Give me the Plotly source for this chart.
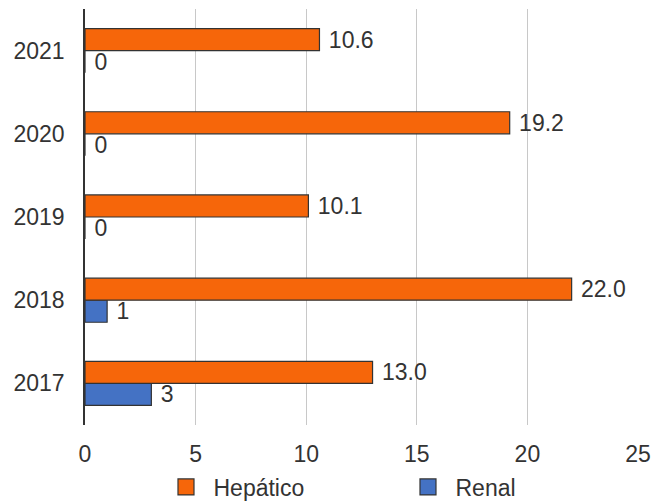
import plotly.graph_objects as go

# Data
years = ["2017", "2018", "2019", "2020", "2021"]
hepatico = [13.0, 22.0, 10.1, 19.2, 10.6]
renal = [3, 1, 0, 0, 0]

ORANGE = "#F6660A"
BLUE = "#4472C4"
EDGE = "#333333"
TEXT = "#333333"
FONT = "Liberation Sans, Arial, sans-serif"
FS = 23
NBSP = "\u00a0"

fig = go.Figure()

# Renal drawn first so it sits below Hepático inside each year group
fig.add_trace(go.Bar(
    y=years, x=renal, orientation="h", name="Renal",
    marker=dict(color=BLUE, line=dict(color=EDGE, width=1.2)),
    text=renal, texttemplate=NBSP + "%{x:.0f}", textposition="outside",
    textfont=dict(size=FS, color=TEXT, family=FONT),
    constraintext="none", cliponaxis=False, showlegend=False,
))
fig.add_trace(go.Bar(
    y=years, x=hepatico, orientation="h", name="Hepático",
    marker=dict(color=ORANGE, line=dict(color=EDGE, width=1.2)),
    text=hepatico, texttemplate=NBSP + "%{x:.1f}", textposition="outside",
    textfont=dict(size=FS, color=TEXT, family=FONT),
    constraintext="none", cliponaxis=False, showlegend=False,
))

# Legend entries with larger square swatches
for name, color in [("Hepático", ORANGE), ("Renal", BLUE)]:
    fig.add_trace(go.Scatter(
        x=[None], y=[None], mode="markers", name=name,
        marker=dict(symbol="square", size=18, color=color,
                    line=dict(color=EDGE, width=1.2)),
    ))

fig.update_layout(
    width=665, height=502,
    margin=dict(l=85, r=27, t=9, b=77, autoexpand=False),
    paper_bgcolor="white", plot_bgcolor="white",
    barmode="group", bargap=0.47, bargroupgap=0,
    font=dict(family=FONT, size=FS, color=TEXT),
    showlegend=True,
    legend=dict(
        orientation="h", x=0.1329, xanchor="left",
        yref="container", y=0.03, yanchor="middle",
        font=dict(size=FS, color=TEXT, family=FONT),
        entrywidth=182, entrywidthmode="pixels",
        itemwidth=45, itemsizing="trace",
    ),
)

fig.update_xaxes(
    range=[0, 25], dtick=5, tick0=0,
    showgrid=True, gridcolor="#C8C8C8", gridwidth=1.3,
    zeroline=False, showline=False, ticks="", ticklabelstandoff=13,
    tickfont=dict(size=FS, color=TEXT, family=FONT),
    fixedrange=True,
)
fig.update_yaxes(
    type="category", categoryorder="array", categoryarray=years,
    showgrid=False, zeroline=False,
    showline=True, linecolor=EDGE, linewidth=1.5,
    ticks="", ticklabelstandoff=14,
    tickfont=dict(size=FS, color=TEXT, family=FONT),
    fixedrange=True,
)

fig.write_html("out.html")
